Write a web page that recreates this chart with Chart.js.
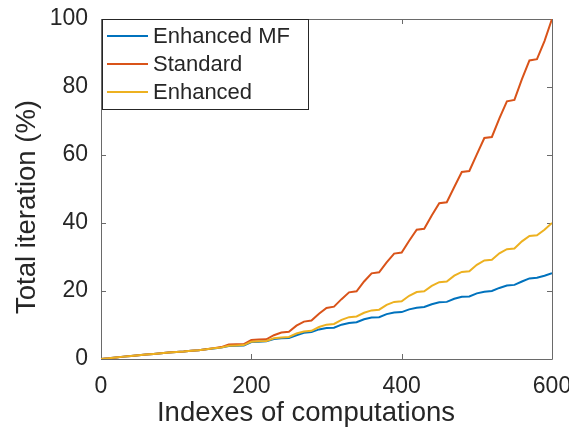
<!DOCTYPE html>
<html lang="en">
<head>
    <meta charset="UTF-8">
    <title>Total iteration vs indexes of computations</title>
    <script src="https://cdn.jsdelivr.net/npm/chart.js@4.4.1/dist/chart.umd.min.js"></script>
    <style>
        html, body { margin: 0; padding: 0; background: #fff; }
        #chart { display: block; }
    </style>
</head>
<body>
    <canvas id="chart" width="569" height="432"></canvas>

    <script>
        // Data
        const indexes = [0, 10, 20, 30, 40, 50, 60, 70, 80, 90,
            100, 110, 120, 130, 140, 150, 160, 170, 180, 190,
            200, 210, 220, 230, 240, 250, 260, 270, 280, 290,
            300, 310, 320, 330, 340, 350, 360, 370, 380, 390,
            400, 410, 420, 430, 440, 450, 460, 470, 480, 490,
            500, 510, 520, 530, 540, 550, 560, 570, 580, 590, 600];

        const enhancedMF = [0, 0.2, 0.45, 0.7, 0.9, 1.1, 1.3, 1.5, 1.7, 1.9,
            2.05, 2.2, 2.4, 2.6, 2.85, 3.1, 3.35, 3.8, 3.9, 4.0,
            5.0, 5.1, 5.2, 5.9, 6.1, 6.2, 7.0, 7.7, 7.9, 8.7,
            9.1, 9.2, 10.1, 10.6, 10.8, 11.7, 12.2, 12.3, 13.2, 13.7,
            13.8, 14.6, 15.1, 15.3, 16.1, 16.7, 16.8, 17.7, 18.3, 18.4,
            19.3, 19.8, 20.0, 20.9, 21.6, 21.8, 22.8, 23.7, 23.9, 24.5, 25.2];

        const standard = [0, 0.2, 0.45, 0.7, 0.9, 1.1, 1.3, 1.5, 1.7, 1.9,
            2.05, 2.2, 2.4, 2.6, 2.9, 3.2, 3.5, 4.3, 4.35, 4.4,
            5.6, 5.7, 5.8, 7.0, 7.8, 8.0, 9.8, 11.0, 11.3, 13.3,
            15.0, 15.4, 17.6, 19.6, 19.9, 22.8, 25.2, 25.5, 28.4, 31.0,
            31.3, 34.8, 38.0, 38.3, 42.2, 45.8, 46.1, 50.6, 55.0, 55.3,
            60.2, 65.0, 65.3, 70.8, 75.8, 76.2, 82.3, 87.8, 88.2, 93.5, 100];

        const enhanced = [0, 0.2, 0.45, 0.7, 0.9, 1.1, 1.3, 1.5, 1.7, 1.9,
            2.05, 2.2, 2.4, 2.6, 2.85, 3.15, 3.4, 3.9, 4.0, 4.1,
            5.1, 5.2, 5.3, 6.1, 6.3, 6.5, 7.5, 8.1, 8.3, 9.4,
            10.1, 10.3, 11.5, 12.3, 12.5, 13.6, 14.3, 14.5, 15.9, 16.8,
            17.0, 18.6, 19.7, 19.9, 21.5, 22.6, 22.8, 24.5, 25.6, 25.8,
            27.7, 29.0, 29.2, 31.1, 32.3, 32.5, 34.6, 36.2, 36.4, 38.0, 40.0];

        const seriesNames = ['Enhanced MF', 'Standard', 'Enhanced'];
        const xTicks = [0, 200, 400, 600];
        const yTicks = [0, 20, 40, 60, 80, 100];
        const xTitle = 'Indexes of computations';
        const yTitle = 'Total iteration (%)';

        const FONT = 'Liberation Sans, Arial, Helvetica, sans-serif';
        const TEXT = '#262626';
        const AXIS = '#6a6a6a';

        function points(values) {
            return indexes.map((x, i) => ({ x: x, y: values[i] }));
        }

        // drop the label overflow padding so the plot box sits where the reference has it
        function noPad(s) {
            s.paddingTop = 0; s.paddingBottom = 0;
            s.paddingLeft = 0; s.paddingRight = 0;
        }

        // MATLAB style box with inward ticks
        const boxPlugin = {
            id: 'box',
            beforeDatasetsDraw(chart) {
                const { ctx, chartArea: a, scales } = chart;
                ctx.save();
                ctx.strokeStyle = AXIS;
                ctx.lineWidth = 1;
                ctx.beginPath();
                ctx.rect(Math.round(a.left) + 0.5, Math.round(a.top) + 0.5,
                    Math.round(a.right - a.left), Math.round(a.bottom - a.top));
                const len = 5;
                xTicks.forEach(v => {
                    const px = Math.round(scales.x.getPixelForValue(v)) + 0.5;
                    ctx.moveTo(px, a.bottom); ctx.lineTo(px, a.bottom - len);
                    ctx.moveTo(px, a.top); ctx.lineTo(px, a.top + len);
                });
                yTicks.forEach(v => {
                    const py = Math.round(scales.y.getPixelForValue(v)) + 0.5;
                    ctx.moveTo(a.left, py); ctx.lineTo(a.left + len, py);
                    ctx.moveTo(a.right, py); ctx.lineTo(a.right - len, py);
                });
                ctx.stroke();
                ctx.restore();
            }
        };

        // axis titles, placed like in the reference (not centred on the box)
        const titlesPlugin = {
            id: 'axisTitles',
            afterDraw(chart) {
                const { ctx } = chart;
                ctx.save();
                ctx.fillStyle = TEXT;
                ctx.font = '27.5px ' + FONT;
                ctx.textAlign = 'center';
                ctx.textBaseline = 'alphabetic';
                ctx.fillText(xTitle, 306, 421);
                ctx.translate(35, 207);
                ctx.rotate(-Math.PI / 2);
                ctx.fillText(yTitle, 0, 0);
                ctx.restore();
            }
        };

        // legend box in the top left corner of the axes
        const legendPlugin = {
            id: 'boxLegend',
            afterDraw(chart) {
                const { ctx, chartArea: a } = chart;
                const x0 = a.left + 1, y0 = a.top;
                const w = 206, h = 90;
                ctx.save();
                ctx.fillStyle = '#fff';
                ctx.fillRect(x0, y0, w, h);
                ctx.strokeStyle = TEXT;
                ctx.lineWidth = 1;
                ctx.strokeRect(Math.round(x0) + 0.5, Math.round(y0) + 0.5, w, h);
                ctx.font = '22px ' + FONT;
                ctx.fillStyle = TEXT;
                ctx.textBaseline = 'middle';
                chart.data.datasets.forEach((ds, i) => {
                    const cy = y0 + 17 + i * 28;
                    ctx.strokeStyle = ds.borderColor;
                    ctx.lineWidth = 2;
                    ctx.beginPath();
                    ctx.moveTo(x0 + 5, cy);
                    ctx.lineTo(x0 + 46, cy);
                    ctx.stroke();
                    ctx.fillText(ds.label, x0 + 51, cy + 1);
                });
                ctx.restore();
            }
        };

        const ctx = document.getElementById('chart').getContext('2d');
        const chart = new Chart(ctx, {
            type: 'line',
            data: {
                datasets: [{
                    label: seriesNames[0],
                    data: points(enhancedMF),
                    borderColor: '#0072BD',
                    order: 3
                }, {
                    label: seriesNames[1],
                    data: points(standard),
                    borderColor: '#D95319',
                    order: 2
                }, {
                    label: seriesNames[2],
                    data: points(enhanced),
                    borderColor: '#EDB120',
                    order: 1
                }]
            },
            options: {
                responsive: false,
                animation: false,
                elements: {
                    point: { radius: 0 },
                    line: { borderWidth: 2, tension: 0 }
                },
                layout: {
                    autoPadding: false,
                    padding: { left: 0, right: 17, top: 19, bottom: 0 }
                },
                plugins: {
                    legend: { display: false },
                    tooltip: { enabled: false }
                },
                scales: {
                    x: {
                        type: 'linear',
                        min: 0,
                        max: 600,
                        afterBuildTicks: s => { s.ticks = xTicks.map(v => ({ value: v })); },
                        afterFit: s => { s.height = 73; noPad(s); },
                        grid: { display: false, drawTicks: false },
                        border: { display: false },
                        ticks: {
                            color: TEXT,
                            padding: 14,
                            maxRotation: 0,
                            font: { family: FONT, size: 23 }
                        }
                    },
                    y: {
                        type: 'linear',
                        min: 0,
                        max: 100,
                        afterBuildTicks: s => { s.ticks = yTicks.map(v => ({ value: v })); },
                        afterFit: s => { s.width = 101; noPad(s); },
                        grid: { display: false, drawTicks: false },
                        border: { display: false },
                        ticks: {
                            color: TEXT,
                            padding: 13,
                            font: { family: FONT, size: 23 }
                        }
                    }
                }
            },
            plugins: [boxPlugin, titlesPlugin, legendPlugin]
        });
    </script>
</body>
</html>
